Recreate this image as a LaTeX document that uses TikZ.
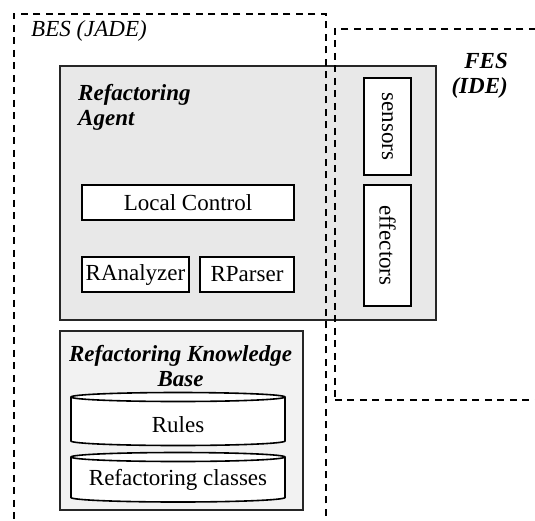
\documentclass[tikz,border=0pt]{standalone}
\usepackage{fontspec}
\setmainfont{Liberation Serif}
\newfontfamily\tnr{Liberation Serif}
\begin{document}
\begin{tikzpicture}[x=1pt,y=1pt,
  every node/.style={font=\tnr\fontsize{23}{25}\selectfont},
  region/.style={draw, dash pattern=on 7pt off 5.5pt, line width=1.8pt, inner sep=0pt},
  agentbox/.style={draw=black!85, line width=2pt, fill=black!9, inner sep=0pt},
  kbbox/.style={draw=black!85, line width=2pt, fill=black!5, inner sep=0pt},
  comp/.style={draw, line width=2pt, fill=white, inner sep=0pt},
  cyl/.style={draw, line width=1.6pt, fill=white},
  title/.style={font=\tnr\fontsize{23}{25}\selectfont\bfseries\itshape, inner sep=0pt}]
\useasboundingbox (0,0) rectangle (535,-520);
\clip (0,0) rectangle (535,-520);
% agent box
\node[agentbox, anchor=north west, minimum width=376, minimum height=254] (agent) at (59,-65) {};
\node[title, anchor=north west, align=left] (agentlbl) at (78,-84) {Refactoring\\Agent};
\node[comp, minimum width=212, minimum height=35] (lc) at (188,-202.5) {Local Control};
\node[comp, minimum width=107, minimum height=35] (ran) at (135.5,-274.5) {RAnalyzer};
\node[comp, minimum width=94, minimum height=35] (rpa) at (247,-274.5) {RParser};
\node[comp, minimum width=47, minimum height=97] (sens) at (387.5,-126.5) {};
\node[rotate=-90, inner sep=0pt] (senstxt) at (sens.center) {sensors};
\node[comp, minimum width=47, minimum height=121] (eff) at (387.5,-245.5) {};
\node[rotate=-90, inner sep=0pt] (efftxt) at (eff.center) {effectors};
% knowledge base
\node[kbbox, anchor=north west, minimum width=243, minimum height=179] (kb) at (59,-330) {};
\node[title, anchor=north, align=center] (kblbl) at (180.5,-345) {Refactoring Knowledge\\Base};
\path[cyl] (71,-397) -- (71,-441) arc[start angle=180,end angle=360,x radius=107,y radius=4.5]
  -- (285,-397) arc[start angle=0,end angle=180,x radius=107,y radius=4.5] -- cycle;
\draw[line width=1.6pt] (71,-397) arc[start angle=180,end angle=360,x radius=107,y radius=4.5];
\node[inner sep=0pt] (rules) at (178,-425) {Rules};
\path[cyl] (71,-457) -- (71,-497.5) arc[start angle=180,end angle=360,x radius=107,y radius=4.5]
  -- (285,-457) arc[start angle=0,end angle=180,x radius=107,y radius=4.5] -- cycle;
\draw[line width=1.6pt] (71,-457) arc[start angle=180,end angle=360,x radius=107,y radius=4.5];
\node[inner sep=0pt] (classes) at (178,-480) {Refactoring classes};
% environments
\node[region, anchor=north west, minimum width=312, minimum height=540] (bes) at (13,-13) {};
\node[region, anchor=north west, minimum width=240, minimum height=371] (fes) at (334,-28) {};
\node[font=\tnr\fontsize{23}{25}\selectfont\itshape, anchor=west, inner sep=0pt] (beslbl) at (31,-31) {BES (JADE)};
\node[title, anchor=north east, align=right] (feslbl) at (508,-53) {FES\\(IDE)};
\end{tikzpicture}
\end{document}
